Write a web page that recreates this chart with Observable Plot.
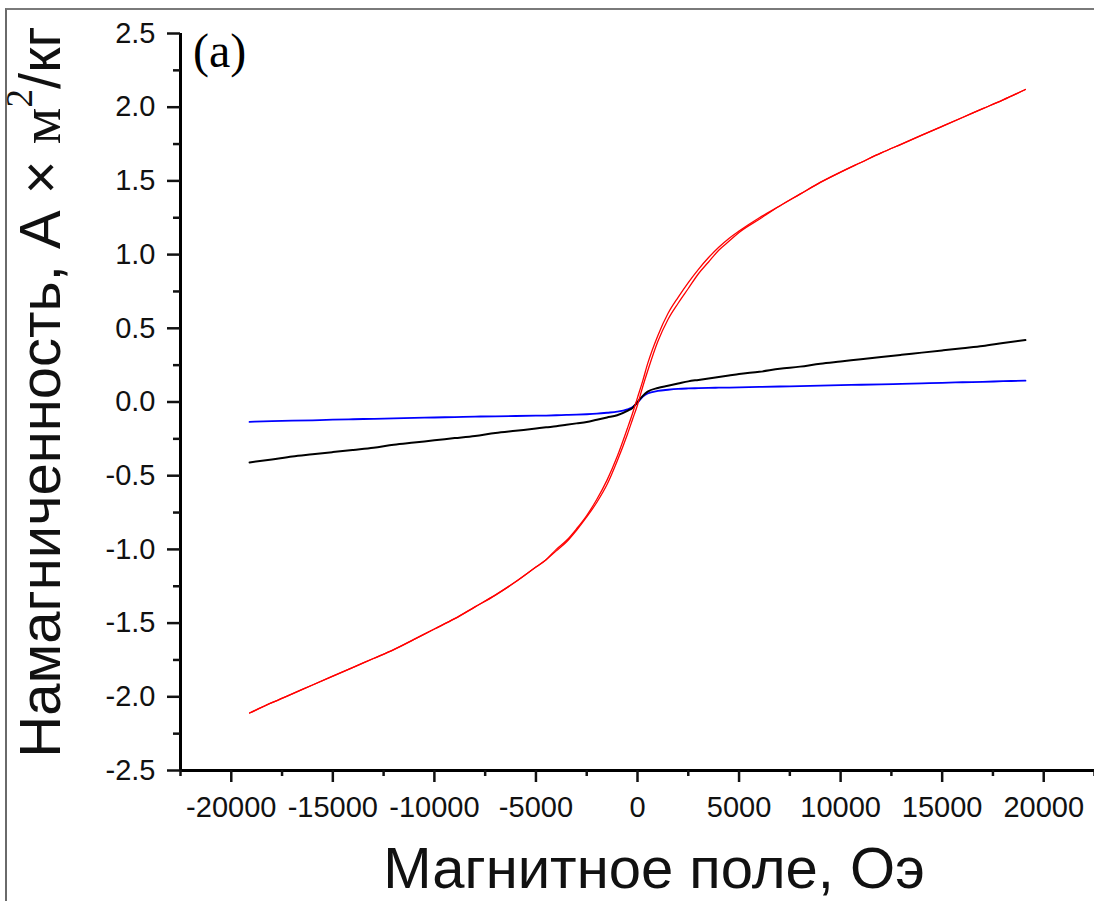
<!DOCTYPE html>
<html>
<head>
<meta charset="utf-8">
<script src="https://cdn.jsdelivr.net/npm/d3@7"></script>
<script src="https://cdn.jsdelivr.net/npm/@observablehq/plot@0.6"></script>
<style>
  html, body { margin: 0; padding: 0; background: #fff; }
  #wrap { position: relative; width: 1094px; height: 901px; overflow: hidden; }
  #border { position: absolute; left: 5px; top: 8px; right: -10px; bottom: -10px;
            border-left: 2px solid #6a6a6a; border-top: 2px solid #7a7a7a; pointer-events: none; }
  #wrap svg { position: absolute; left: 0; top: 0; overflow: visible; }
</style>
</head>
<body>
<div id="wrap"><div id="border"></div></div>
<script>
// Magnetic field, Oe
const fieldOe = [-19100, -18000, -17000, -16000, -15000, -14000, -13000, -12000, -11000, -10000,
  -9000, -8000, -7000, -6000, -5000, -4500, -4000, -3500, -3000, -2500, -2000, -1500, -1000, -500, -250,
  0, 250, 500, 1000, 1500, 2000, 2500, 3000, 3500, 4000, 4500, 5000, 6000, 7000, 8000, 9000,
  10000, 11000, 12000, 13000, 14000, 15000, 16000, 17000, 18000, 19100];

// Red sample: ascending branch (field increasing)
const redUp = [-2.11, -2.04, -1.98, -1.92, -1.86, -1.80, -1.74, -1.68, -1.61, -1.54,
  -1.47, -1.39, -1.31, -1.22, -1.12, -1.07, -1.01, -0.95, -0.87, -0.78, -0.68, -0.56, -0.40, -0.22, -0.12,
  -0.02, 0.10, 0.21, 0.41, 0.56, 0.67, 0.77, 0.87, 0.95, 1.03, 1.09, 1.15, 1.24, 1.33, 1.41, 1.49,
  1.56, 1.625, 1.69, 1.75, 1.81, 1.87, 1.93, 1.99, 2.05, 2.12];
// Red sample: descending branch (field decreasing)
const redDown = [-2.11, -2.04, -1.98, -1.92, -1.86, -1.80, -1.74, -1.68, -1.61, -1.54,
  -1.47, -1.39, -1.31, -1.22, -1.12, -1.07, -1.00, -0.94, -0.86, -0.77, -0.66, -0.53, -0.37, -0.18, -0.08,
  0.03, 0.14, 0.26, 0.45, 0.60, 0.71, 0.81, 0.90, 0.98, 1.05, 1.11, 1.16, 1.25, 1.33, 1.41, 1.49,
  1.56, 1.625, 1.69, 1.75, 1.81, 1.87, 1.93, 1.99, 2.05, 2.12];
// Black sample
const blackM = [-0.41, -0.39, -0.37, -0.355, -0.34, -0.325, -0.31, -0.29, -0.275, -0.26,
  -0.245, -0.23, -0.21, -0.195, -0.18, -0.172, -0.165, -0.155, -0.145, -0.135, -0.12, -0.105, -0.09, -0.06, -0.04,
  0.0, 0.04, 0.07, 0.095, 0.11, 0.125, 0.14, 0.15, 0.16, 0.17, 0.18, 0.19, 0.205, 0.225, 0.24, 0.26,
  0.275, 0.29, 0.305, 0.32, 0.335, 0.35, 0.365, 0.38, 0.40, 0.42];
// Blue sample
const blueM = [-0.135, -0.13, -0.127, -0.124, -0.12, -0.117, -0.114, -0.111, -0.108, -0.105,
  -0.102, -0.099, -0.097, -0.095, -0.093, -0.092, -0.09, -0.088, -0.086, -0.083, -0.079, -0.073, -0.066, -0.05, -0.035,
  -0.005, 0.035, 0.058, 0.075, 0.083, 0.089, 0.092, 0.094, 0.096, 0.097, 0.098, 0.099, 0.102, 0.105, 0.108, 0.111,
  0.114, 0.117, 0.12, 0.123, 0.127, 0.13, 0.134, 0.137, 0.141, 0.145];

const xDomain = [-22500, 22500];
const yDomain = [-2.5, 2.5];
const xTicks = [-20000, -15000, -10000, -5000, 0, 5000, 10000, 15000, 20000];
const xMinorTicks = [-22500, -17500, -12500, -7500, -2500, 2500, 7500, 12500, 17500, 22500];
const yTicks = [-2.5, -2.0, -1.5, -1.0, -0.5, 0.0, 0.5, 1.0, 1.5, 2.0, 2.5];
const yMinorTicks = [-2.25, -1.75, -1.25, -0.75, -0.25, 0.25, 0.75, 1.25, 1.75, 2.25];
const yTickLabels = ["-2.5", "-2.0", "-1.5", "-1.0", "-0.5", "0.0", "0.5", "1.0", "1.5", "2.0", "2.5"];
const xTickLabels = ["-20000", "-15000", "-10000", "-5000", "0", "5000", "10000", "15000", "20000"];

const xTitle = "Магнитное поле, Оэ";
const yTitleMain = "Намагниченность, А × ";
const yTitleUnit = "м";
const yTitleSup = "2";
const yTitleRest = "/кг";
const panelTag = "(a)";

const up = fieldOe.map((h, i) => ({H: h, M: redUp[i]}));
const down = fieldOe.map((h, i) => ({H: h, M: redDown[i]})).reverse();
const black = fieldOe.map((h, i) => ({H: h, M: blackM[i]}));
const blue = fieldOe.map((h, i) => ({H: h, M: blueM[i]}));

const chart = Plot.plot({
  width: 1094, height: 901,
  marginLeft: 180, marginRight: 0, marginTop: 33, marginBottom: 131,
  x: {domain: xDomain},
  y: {domain: yDomain},
  style: {fontFamily: "'Liberation Sans', Arial, sans-serif", background: "transparent", color: "#111"},
  marks: [
    Plot.line(blue, {x: "H", y: "M", stroke: "#0000ff", strokeWidth: 1.8, curve: "monotone-x"}),
    Plot.line(black, {x: "H", y: "M", stroke: "#000000", strokeWidth: 2, curve: "monotone-x"}),
    Plot.line(up, {x: "H", y: "M", stroke: "#ff0000", strokeWidth: 1.3, curve: "monotone-x"}),
    Plot.line(down, {x: "H", y: "M", stroke: "#ff0000", strokeWidth: 1.3, curve: "monotone-x"}),
    Plot.ruleX([xDomain[0]], {stroke: "#000", strokeWidth: 3}),
    Plot.ruleY([yDomain[0]], {stroke: "#000", strokeWidth: 3}),
    Plot.axisX({ticks: xTicks, tickSize: 12, tickPadding: 14, fontSize: 29, strokeWidth: 2.5,
      tickFormat: d => xTickLabels[xTicks.indexOf(d)], label: null}),
    Plot.axisX({ticks: xMinorTicks, tickSize: 6, strokeWidth: 2.5, tickFormat: () => "", label: null}),
    Plot.axisY({ticks: yTicks, tickSize: 13, tickPadding: 12, fontSize: 29, strokeWidth: 2.5,
      tickFormat: d => yTickLabels[yTicks.indexOf(d)], label: null}),
    Plot.axisY({ticks: yMinorTicks, tickSize: 7, strokeWidth: 2.5, tickFormat: () => "", label: null})
  ]
});

document.getElementById("wrap").appendChild(chart);
const svg = d3.select(chart);

svg.append("text")
  .attr("x", 654).attr("y", 888)
  .attr("text-anchor", "middle")
  .attr("font-family", "'Liberation Sans', Arial, sans-serif")
  .attr("font-size", 58)
  .attr("fill", "#111")
  .text(xTitle);

const yt = svg.append("text")
  .attr("transform", "translate(60,392) rotate(-90)")
  .attr("text-anchor", "middle")
  .attr("font-family", "'Liberation Sans', Arial, sans-serif")
  .attr("font-size", 58)
  .attr("fill", "#111");
yt.append("tspan").text(yTitleMain);
yt.append("tspan").attr("font-family", "'Liberation Serif', 'Times New Roman', serif").text(yTitleUnit);
yt.append("tspan").attr("font-family", "'Liberation Serif', 'Times New Roman', serif")
  .attr("font-size", 37).attr("dy", "-0.75em").text(yTitleSup);
yt.append("tspan").attr("dy", "0.48em").text(yTitleRest);

svg.append("text")
  .attr("x", 193).attr("y", 67)
  .attr("text-anchor", "start")
  .attr("font-family", "'Liberation Serif', 'Times New Roman', serif")
  .attr("font-size", 48)
  .attr("fill", "#000")
  .text(panelTag);
</script>
</body>
</html>
